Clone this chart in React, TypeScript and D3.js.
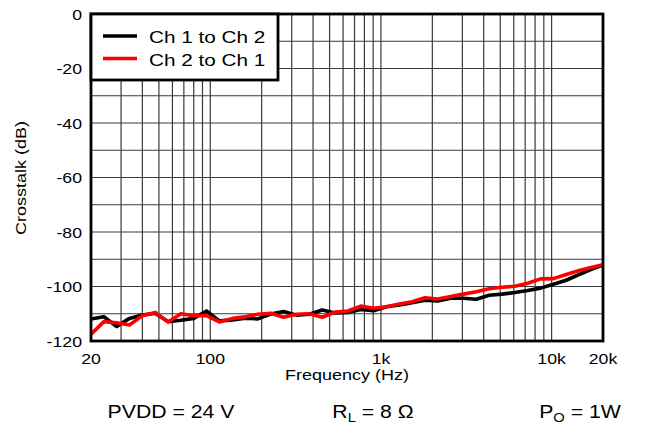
import React from "react";
import * as d3 from "d3";

const freqs = [20, 23.8, 28.3, 33.6, 40, 47.6, 56.6, 67.3, 80, 95, 113, 135, 160, 190, 226, 269, 320, 381, 453, 538, 640, 761, 905, 1076, 1280, 1522, 1810, 2153, 2560, 3044, 3620, 4305, 5120, 6089, 7241, 8611, 10240, 12177, 14482, 17222, 20000];

const ch1to2 = [-111.9, -111.1, -114.7, -111.7, -110.5, -109.8, -112.9, -112.4, -111.7, -109.0, -112.6, -112.3, -111.6, -111.9, -110.1, -109.2, -110.5, -110.2, -108.6, -109.7, -109.5, -108.4, -108.9, -107.4, -106.8, -106.0, -105.0, -105.3, -104.3, -104.3, -104.7, -103.2, -102.8, -102.2, -101.5, -100.6, -99.2, -97.7, -95.6, -93.6, -92.1];

const ch2to1 = [-117.5, -112.9, -113.3, -114.1, -110.7, -109.5, -113.0, -110.0, -110.7, -110.7, -113.0, -111.7, -111.1, -110.2, -109.8, -111.3, -110.2, -110.0, -111.3, -109.4, -109.0, -107.2, -108.0, -107.4, -106.4, -105.6, -104.1, -104.6, -103.7, -102.8, -101.9, -100.8, -100.3, -99.9, -98.8, -97.2, -97.1, -95.6, -94.1, -92.9, -92.0];

const xTickValues = [20, 100, 1000, 10000, 20000];
const xTickLabels = ["20", "100", "1k", "10k", "20k"];
const yTickValues = [0, -20, -40, -60, -80, -100, -120];
const yTickLabels = ["0", "-20", "-40", "-60", "-80", "-100", "-120"];

const seriesNames = ["Ch 1 to Ch 2", "Ch 2 to Ch 1"];
const seriesColors = ["#000000", "#ff0000"];

const FONT = "'Liberation Sans', Arial, sans-serif";
const SX = 1.2;

function SText({ x, y, size, anchor = "start", children, rotate = 0, sx = SX }: any) {
  return (
    <text
      transform={`translate(${x},${y}) rotate(${rotate}) scale(${sx},1)`}
      fontSize={size}
      fontFamily={FONT}
      textAnchor={anchor}
      fill="#000"
    >
      {children}
    </text>
  );
}

export default function App() {
  const W = 648, H = 426;
  const left = 91, right = 603, top = 14, bottom = 341;
  const x = d3.scaleLog().domain([20, 20000]).range([left, right]);
  const y = d3.scaleLinear().domain([-120, 0]).range([bottom, top]);

  const gridX = x.ticks().filter((t) => t > 20 && t < 20000);
  const gridY = y.ticks(12).filter((t) => t > -120 && t < 0);

  const line = d3
    .line<number>()
    .x((_, i) => x(freqs[i]))
    .y((d) => y(d));

  const series = [ch1to2, ch2to1];

  return (
    <svg width={W} height={H} style={{ position: "absolute", left: 0, top: 0 }}>
      <rect x={0} y={0} width={W} height={H} fill="#fff" />
      {gridX.map((t) => (
        <line key={"gx" + t} x1={x(t)} x2={x(t)} y1={top} y2={bottom} stroke="#3a3a3a" strokeWidth={1.2} />
      ))}
      {gridY.map((t) => (
        <line key={"gy" + t} x1={left} x2={right} y1={y(t)} y2={y(t)} stroke="#3a3a3a" strokeWidth={1.2} />
      ))}
      {series.map((s, i) => (
        <path key={"s" + i} d={line(s) || ""} fill="none" stroke={seriesColors[i]} strokeWidth={3.6} strokeLinejoin="round" />
      ))}
      <rect x={left} y={top} width={right - left} height={bottom - top} fill="none" stroke="#000" strokeWidth={2.8} />

      {/* legend */}
      <rect x={left} y={top} width={187} height={66} fill="#fff" stroke="#000" strokeWidth={2.8} />
      {seriesNames.map((n, i) => (
        <g key={"lg" + i}>
          <line x1={103} x2={137} y1={36 + i * 22.5} y2={36 + i * 22.5} stroke={seriesColors[i]} strokeWidth={3.6} />
          <SText x={149} y={43 + i * 22.5} size={17} sx={1.22}>{n}</SText>
        </g>
      ))}

      {/* y ticks */}
      {yTickValues.map((v, i) => (
        <SText key={"yt" + v} x={82} y={y(v) + 5.5} size={14.5} anchor="end" sx={1.22}>{yTickLabels[i]}</SText>
      ))}
      {/* x ticks */}
      {xTickValues.map((v, i) => (
        <SText key={"xt" + v} x={x(v)} y={364} size={14.5} anchor="middle" sx={1.22}>{xTickLabels[i]}</SText>
      ))}

      <SText x={347} y={380} size={15} anchor="middle">Frequency (Hz)</SText>
      <SText x={26} y={178} size={15} anchor="middle" rotate={-90} sx={1.2}>Crosstalk (dB)</SText>

      <SText x={171} y={418} size={18} anchor="middle" sx={1.18}>PVDD = 24 V</SText>
      <SText x={373} y={418} size={18} anchor="middle" sx={1.18}>
        R<tspan fontSize={12.5} dy={4}>L</tspan><tspan dy={-4}> = 8 Ω</tspan>
      </SText>
      <SText x={580} y={418} size={18} anchor="middle" sx={1.18}>
        P<tspan fontSize={12.5} dy={4}>O</tspan><tspan dy={-4}> = 1W</tspan>
      </SText>
    </svg>
  );
}
